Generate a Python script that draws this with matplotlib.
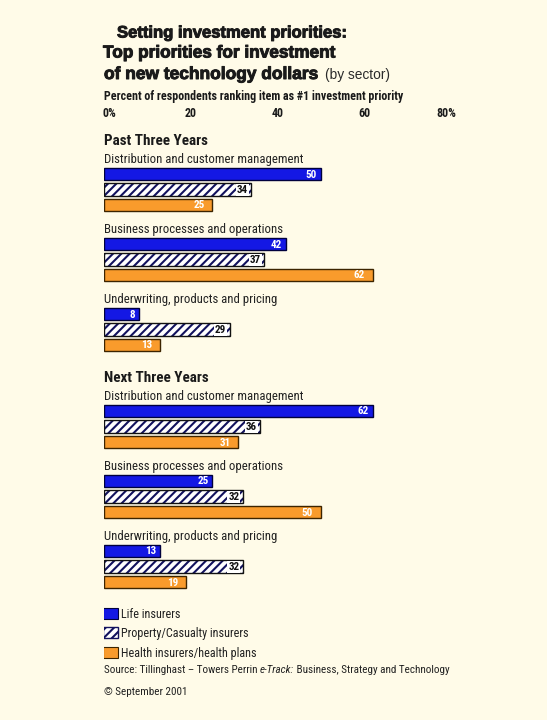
import matplotlib
matplotlib.use("Agg")
import matplotlib.pyplot as plt
import matplotlib.transforms as mtransforms
import matplotlib.patheffects as pe
from matplotlib.patches import Rectangle

# ---- data ----
sections = ["Past Three Years", "Next Three Years"]
categories = ["Distribution and customer management",
              "Business processes and operations",
              "Underwriting, products and pricing"]
series = ["Life insurers", "Property/Casualty insurers", "Health insurers/health plans"]
past_life = [50, 42, 8]
past_pc = [34, 37, 29]
past_health = [25, 62, 13]
next_life = [62, 25, 13]
next_pc = [36, 32, 32]
next_health = [31, 50, 19]
tick_values = [0, 20, 40, 60, 80]
tick_labels = ["0%", "20", "40", "60", "80%"]

values = {0: [past_life, past_pc, past_health],
          1: [next_life, next_pc, next_health]}

BG = "#FFFBE8"
BLUE = "#1418E4"
ORANGE = "#F99B2C"
NAVY = "#12125E"
TXT = "#1a1a1a"

COND = ["Roboto Condensed", "Archivo Narrow", "PT Sans Narrow", "Liberation Sans", "DejaVu Sans"]
HEAVY = ["Liberation Sans", "DejaVu Sans"]

W, H = 547, 720
fig = plt.figure(figsize=(W / 100, H / 100), dpi=100, facecolor=BG)
x0_px, x1_px = 104, 451
ax = fig.add_axes([x0_px / W, 0, (x1_px - x0_px) / W, 1])
ax.set_facecolor("none")
ax.set_xlim(0, 80)
ax.set_ylim(H, 0)
ax.axis("off")
plt.rcParams["hatch.linewidth"] = 1.5

renderer = fig.canvas.get_renderer()
# pixel transform: x px from left, y px from top
pix = mtransforms.Affine2D().scale(1 / W, -1 / H).translate(0, 1) + fig.transFigure


def ptext(x, y, s, **kw):
    kw.setdefault("va", "baseline")
    kw.setdefault("ha", "left")
    return ax.text(x, y, s, transform=pix, **kw)


def fit(t, target):
    w = t.get_window_extent(renderer).width
    t.set_fontsize(t.get_fontsize() * target / w)
    return t.get_fontsize()


heavy_fx = [pe.withStroke(linewidth=0.7, foreground=TXT)]

# ---- titles ----
t1 = ptext(117, 37.5, "Setting investment priorities:", fontsize=12, fontweight="bold",
           family=HEAVY, color=TXT)
fit(t1, 229)
t2 = ptext(103, 57.5, "Top priorities for investment", fontsize=12, fontweight="bold",
           family=HEAVY, color=TXT)
fit(t2, 231)
t3 = ptext(104, 79, "of new technology dollars", fontsize=12, fontweight="bold",
           family=HEAVY, color=TXT)
fit(t3, 213)
for t in (t1, t2, t3):
    t.set_path_effects(heavy_fx)
t4 = ptext(325, 79, "(by sector)", fontsize=10, family=HEAVY, color="#2a2a2a")
fit(t4, 65)

sub = ptext(104, 100, "Percent of respondents ranking item as #1 investment priority",
            fontsize=8.5, fontweight="bold", family=COND, color=TXT)
fs_sub = fit(sub, 298)
for v, lab in zip(tick_values, tick_labels):
    if v == 0:
        ax.text(v - 0.35, 117, lab, ha="left", va="baseline", fontsize=fs_sub,
                fontweight="bold", family=COND, color=TXT)
    elif v == tick_values[-1]:
        ax.text(v + 1.2, 117, lab, ha="right", va="baseline", fontsize=fs_sub,
                fontweight="bold", family=COND, color=TXT)
    else:
        ax.text(v, 117, lab, ha="center", va="baseline", fontsize=fs_sub,
                fontweight="bold", family=COND, color=TXT)

# ---- bars ----
bar_h = 12.5
section_top = [139, 376]
probe = ax.text(0, 0, sections[0], fontsize=10, fontweight="bold", family=COND)
fs_sec = fit(probe, 104)
probe.remove()
probe = ax.text(0, 0, categories[0], fontsize=9, family=COND)
fs_cat = fit(probe, 199)
probe.remove()

for s, top in enumerate(section_top):
    ax.text(0, top + 6, sections[s], ha="left", va="baseline", fontsize=fs_sec,
            fontweight="bold", family=COND, color=TXT)
    for i, cat in enumerate(categories):
        ax.text(0, top + 24 + 70 * i, cat, ha="left", va="baseline", fontsize=fs_cat,
                family=COND, color="#222222")
        for j in range(3):
            val = values[s][j][i]
            yc = top + 35 + 70 * i + 15.5 * j
            if j == 0:
                ax.barh(yc, val, height=bar_h, color=BLUE, edgecolor="#00003c",
                        linewidth=1.0)
                ax.text(val - 0.9, yc + 0.5, str(val), ha="right", va="center",
                        fontsize=8, fontweight="bold", family=COND, color="white")
            elif j == 1:
                ax.barh(yc, val, height=bar_h, color="white", edgecolor=NAVY,
                        hatch="////", linewidth=0)
                ax.barh(yc, val, height=bar_h, fill=False, edgecolor="#111111",
                        linewidth=1.0)
                ax.text(val - 0.8, yc + 0.5, str(val), ha="right", va="center",
                        fontsize=8, fontweight="bold", family=COND, color="#111111",
                        bbox=dict(boxstyle="square,pad=0.08", fc="white", ec="none"))
            else:
                ax.barh(yc, val, height=bar_h, color=ORANGE, edgecolor="#3c2400",
                        linewidth=1.0)
                ax.text(val - 1.8, yc + 0.5, str(val), ha="right", va="center",
                        fontsize=8, fontweight="bold", family=COND, color="white")

# ---- legend ----
leg_y = [613, 632.5, 652]
leg_targets = [61, 129, 136]
sw = [dict(facecolor=BLUE, edgecolor="#00003c", linewidth=0.8),
      dict(facecolor="white", edgecolor=NAVY, hatch="////", linewidth=1.0),
      dict(facecolor=ORANGE, edgecolor="#3c2400", linewidth=0.8)]
probe = ax.text(0, 0, series[2], fontsize=9, family=COND)
fs_leg = fit(probe, leg_targets[2])
probe.remove()
for k, (name, yy) in enumerate(zip(series, leg_y)):
    rect = Rectangle((103, yy - 5.5), 15, 11, transform=pix, **sw[k])
    ax.add_patch(rect)
    ptext(121, yy + 5, name, fontsize=fs_leg, family=COND, color="#222222")

# ---- source ----
parts = [("Source: Tillinghast \u2013 Towers Perrin ", "normal"),
         ("e-Track:", "italic"),
         (" Business, Strategy and Technology", "normal")]
fs_src = 8.5
arts = []
for txt, st in parts:
    arts.append(ptext(104, 673, txt, fontsize=fs_src, family=COND, style=st,
                      color="#222222"))
total = sum(a.get_window_extent(renderer).width for a in arts)
scale = 344 / total
xpos = 104
for a in arts:
    a.set_fontsize(fs_src * scale)
    a.set_position((xpos, 673))
    xpos += a.get_window_extent(renderer).width
cp = ptext(104, 695, "\u00a9 September 2001", fontsize=fs_src * scale, family=COND,
           color="#222222")

fig.savefig("out.png", dpi=100, facecolor=BG)
